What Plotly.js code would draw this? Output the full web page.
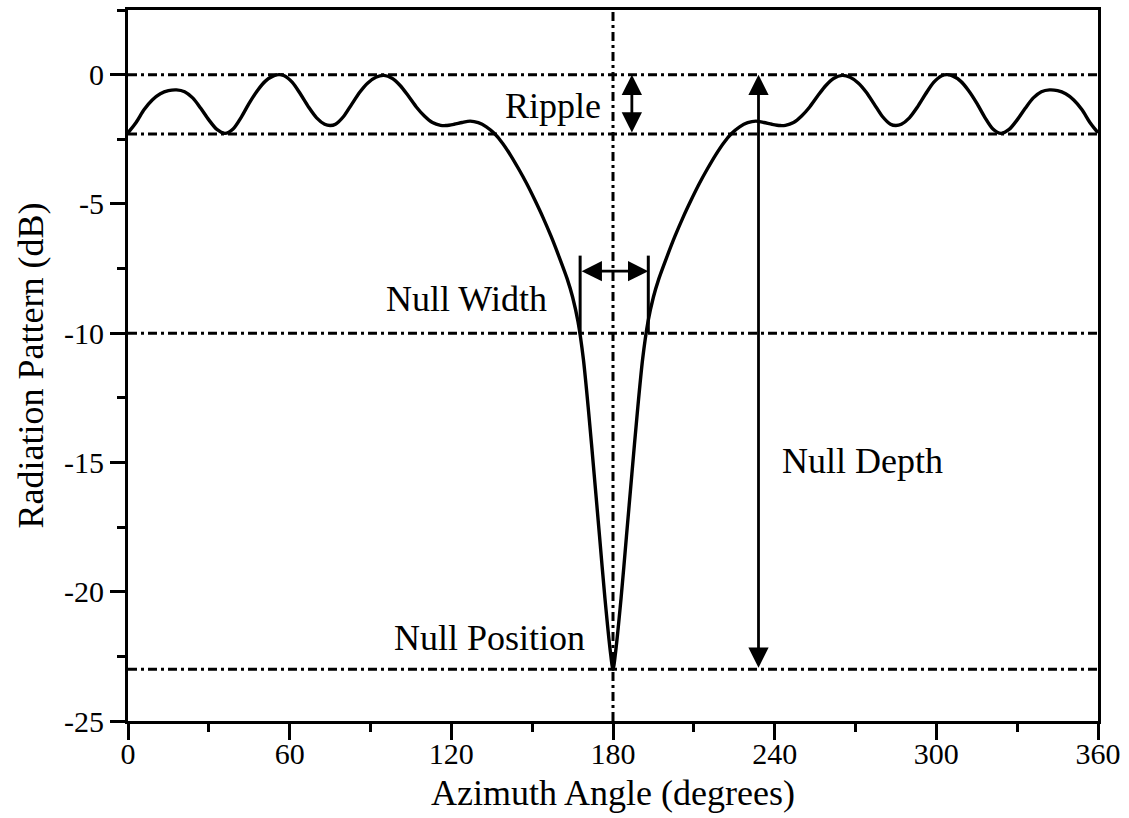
<!DOCTYPE html>
<html>
<head>
<meta charset="utf-8">
<script src="https://cdn.plot.ly/plotly-3.0.1.min.js"></script>
<style>
html,body{margin:0;padding:0;background:#ffffff;}
#chart{width:1129px;height:818px;}
</style>
</head>
<body>
<div id="chart"></div>
<script>
// Azimuth angle (degrees)
const azimuth = [
  0, 3, 6, 9, 12, 15, 18, 21, 24, 27, 30, 33, 36, 39, 42, 45, 48, 51, 54, 56, 58,
  61, 64, 67, 70, 73, 75, 77, 80, 83, 86, 89, 92, 95, 98, 101, 104, 107, 110, 113,
  116, 118, 121, 124, 127, 130, 133, 136, 139, 142, 145, 148, 151, 154, 157, 160,
  163, 165, 167, 169, 171, 173, 175, 177, 179, 180,
  181, 183, 185, 187, 189, 191, 193, 195, 197, 200, 203, 206, 209, 212, 215, 218,
  221, 224, 227, 230, 233, 236, 239, 242, 244, 247, 250, 253, 256, 259, 262, 265,
  268, 271, 274, 277, 280, 283, 285, 287, 290, 293, 296, 299, 302, 304, 306, 309,
  312, 315, 318, 321, 324, 327, 330, 333, 336, 339, 342, 345, 348, 351, 354, 357, 360
];
// Radiation pattern (dB)
const patternDb = [
  -2.25, -1.85, -1.35, -0.98, -0.74, -0.62, -0.59, -0.66, -0.90, -1.30, -1.75, -2.12, -2.27, -2.10, -1.65, -1.10, -0.62, -0.25, -0.05, 0.00, -0.04,
  -0.30, -0.75, -1.25, -1.67, -1.92, -1.97, -1.92, -1.62, -1.15, -0.68, -0.32, -0.10, -0.03, -0.14, -0.42, -0.82, -1.25, -1.60, -1.85,
  -1.96, -1.97, -1.92, -1.85, -1.80, -1.86, -2.02, -2.28, -2.65, -3.12, -3.65, -4.22, -4.85, -5.52, -6.25, -7.05,
  -7.90, -8.60, -9.55, -11.00, -13.10, -15.45, -17.85, -20.25, -22.30, -23.00,
  -22.30, -20.25, -17.85, -15.45, -13.10, -11.00, -9.55, -8.60, -7.90, -7.05, -6.25, -5.52, -4.85, -4.22, -3.65, -3.12,
  -2.65, -2.28, -2.02, -1.86, -1.80, -1.85, -1.92, -1.97, -1.96, -1.85, -1.60, -1.25, -0.82, -0.42, -0.14, -0.03,
  -0.10, -0.32, -0.68, -1.15, -1.62, -1.92, -1.97, -1.92, -1.67, -1.25, -0.75, -0.30, -0.04, 0.00, -0.05, -0.25,
  -0.62, -1.10, -1.65, -2.10, -2.27, -2.12, -1.75, -1.30, -0.90, -0.66, -0.59, -0.62, -0.74, -0.98, -1.35, -1.85, -2.25
];

const xTickVals = [0, 60, 120, 180, 240, 300, 360];
const xTickText = ['0', '60', '120', '180', '240', '300', '360'];
const yTickVals = [0, -5, -10, -15, -20, -25];
const yTickText = ['0', '-5', '-10', '-15', '-20', '-25'];

// Reference levels (dB): ripple top, ripple bottom, null-width level, null depth
const refLevels = [0, -2.3, -10, -23];
const nullPositionDeg = 180;
const nullWidthEdges = [167.8, 193.1];
const nullWidthBarTop = -7.0;
const nullWidthArrowLevel = -7.6;
const rippleArrowDeg = 187;
const depthArrowDeg = 234;

const labelTexts = ['Ripple', 'Null Width', 'Null Position', 'Null Depth'];
const labelX = [157.7, 125.8, 134.2, 272.5];
const labelY = [-1.2, -8.66, -21.8, -14.95];

const FONT = 'Liberation Serif, Times New Roman, serif';
const DASH = '9px,4px,3px,4px';

const shapes = [];
refLevels.forEach(function (lv) {
  shapes.push({type: 'line', xref: 'x', yref: 'y', x0: 0, x1: 360, y0: lv, y1: lv,
    line: {color: '#000', width: 3, dash: DASH}, layer: 'below'});
});
shapes.push({type: 'line', xref: 'x', yref: 'paper', x0: nullPositionDeg, x1: nullPositionDeg, y0: 0, y1: 1,
  line: {color: '#000', width: 3, dash: DASH}, layer: 'below'});
nullWidthEdges.forEach(function (e) {
  shapes.push({type: 'line', xref: 'x', yref: 'y', x0: e, x1: e, y0: nullWidthBarTop, y1: refLevels[2],
    line: {color: '#000', width: 3}});
});

const arrowBase = {xref: 'x', yref: 'y', axref: 'x', ayref: 'y', text: '', showarrow: true,
  arrowhead: 2, startarrowhead: 2, arrowside: 'end+start', arrowsize: 1.45, startarrowsize: 1.45,
  arrowwidth: 2.8, arrowcolor: '#000', standoff: 0, startstandoff: 0};

const annotations = [
  Object.assign({}, arrowBase, {x: rippleArrowDeg, y: refLevels[0], ax: rippleArrowDeg, ay: refLevels[1]}),
  Object.assign({}, arrowBase, {x: depthArrowDeg, y: refLevels[0], ax: depthArrowDeg, ay: refLevels[3]}),
  Object.assign({}, arrowBase, {x: nullWidthEdges[1], y: nullWidthArrowLevel, ax: nullWidthEdges[0], ay: nullWidthArrowLevel})
];
labelTexts.forEach(function (t, i) {
  annotations.push({xref: 'x', yref: 'y', x: labelX[i], y: labelY[i], text: t, showarrow: false,
    xanchor: 'center', yanchor: 'middle', font: {family: FONT, size: 36, color: '#000'}});
});

const data = [{
  type: 'scatter', mode: 'lines', x: azimuth, y: patternDb,
  line: {color: '#000', width: 3.4, shape: 'spline', smoothing: 0.8},
  hoverinfo: 'skip', showlegend: false
}];

const layout = {
  width: 1129, height: 818,
  margin: {l: 128, r: 31, t: 10, b: 97},
  paper_bgcolor: '#fff', plot_bgcolor: '#fff',
  font: {family: FONT, color: '#000', size: 30},
  showlegend: false,
  xaxis: {
    showline: true, linecolor: '#000', linewidth: 3, mirror: true,
    showgrid: false, zeroline: false,
    ticks: 'outside', tickcolor: '#000', tickwidth: 3, ticklen: 16,
    tickfont: {family: FONT, size: 30, color: '#000'},
    ticklabelstandoff: -12,
    range: [0, 360], tickmode: 'array', tickvals: xTickVals, ticktext: xTickText,
    minor: {ticks: 'outside', ticklen: 8, tickwidth: 3, tickcolor: '#000', tick0: 0, dtick: 30, showgrid: false},
    title: {text: 'Azimuth Angle (degrees)', font: {family: FONT, size: 36, color: '#000'}, standoff: 11}
  },
  yaxis: {
    showline: true, linecolor: '#000', linewidth: 3, mirror: true,
    showgrid: false, zeroline: false,
    ticks: 'outside', tickcolor: '#000', tickwidth: 3, ticklen: 15,
    tickfont: {family: FONT, size: 30, color: '#000'},
    range: [-25, 2.5], tickmode: 'array', tickvals: yTickVals, ticktext: yTickText,
    minor: {ticks: 'outside', ticklen: 8, tickwidth: 3, tickcolor: '#000', tick0: 0, dtick: 2.5, showgrid: false},
    title: {text: 'Radiation Pattern (dB)', font: {family: FONT, size: 36, color: '#000'}, standoff: 10}
  },
  shapes: shapes,
  annotations: annotations
};

Plotly.newPlot('chart', data, layout, {displayModeBar: false, staticPlot: true});
</script>
</body>
</html>
